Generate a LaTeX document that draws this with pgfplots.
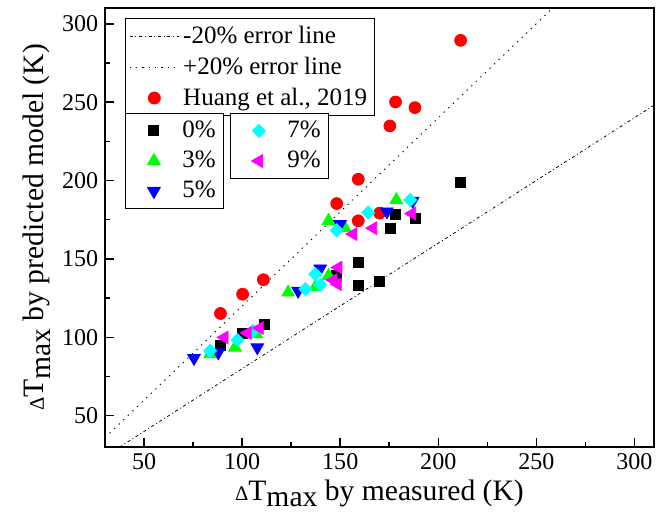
\documentclass[border=0pt]{standalone}
\usepackage{fontspec}
\setmainfont{Liberation Serif}
\usepackage{pgfplots}
\pgfplotsset{compat=1.18}
\usetikzlibrary{calc}
\definecolor{cgreen}{RGB}{0,255,0}
\definecolor{cblue}{RGB}{0,0,255}
\definecolor{ccyan}{RGB}{0,255,255}
\definecolor{cmag}{RGB}{255,0,255}
\definecolor{cred}{RGB}{255,0,0}

\pgfplotsset{
  common/.style={
    scale only axis, width=285.5pt, height=228.3pt,
    xmin=30, xmax=310, ymin=30, ymax=310,
    legend image code/.code={\draw[mark repeat=2,mark phase=2,##1] plot coordinates {(0cm,0cm)(0.45cm,0cm)(0.9cm,0cm)};},
    legend style={draw=black, line width=0.5pt, fill=white, font=\rmfamily\fontsize{13}{15}\selectfont,
      legend cell align=left, row sep=1.5pt, inner xsep=2pt, inner ysep=2pt,
      nodes={inner sep=2pt}},
  },
  mylegend/.style={legend image code/.code={\path[draw=none,fill=none] (0cm,0cm) (0.9cm,0cm); \draw[##1] plot coordinates {(0.45cm,0cm)};}},
}

\begin{document}
\begin{tikzpicture}
\begin{axis}[common, name=main,
  axis line style={line width=0.8pt},
  tick style={line width=0.8pt, black},
  tick align=inside,
  xtick pos=bottom, ytick pos=left,
  xtick={50,100,...,300}, ytick={50,100,...,300},
  minor x tick num=1, minor y tick num=1,
  major tick length=4.5pt, minor tick length=2.6pt,
  ticklabel style={font=\rmfamily\fontsize{12.5}{14}\selectfont},
  /pgf/number format/assume math mode=true,
  xlabel={{\scalebox{0.7}{Δ}T\raisebox{-0.45ex}{max} by measured (K)}},
  ylabel={{\scalebox{0.7}{Δ}T\raisebox{-0.45ex}{max} by predicted model (K)}},
  label style={font=\rmfamily\fontsize{15.4}{17}\selectfont},
  xlabel style={at={(axis description cs:0.5,-0.105)}, anchor=center},
  ylabel style={at={(axis description cs:-0.124,0.5)}, anchor=center},
  legend style={at={(0.0364,0.977)}, anchor=north west},
]
\addplot[black, line width=0.4pt, dash pattern=on 1.6pt off 1.4pt on 0.5pt off 1.4pt] coordinates {(37.5,30) (310,248)};
\addlegendentry{-20\% error line}
\addplot[black, line width=0.45pt, dash pattern=on 0.7pt off 2.6pt] coordinates {(30,36) (258.33,310)};
\addlegendentry{+20\% error line}
\addplot[only marks, mark=*, mark size=3.1pt, color=cred, mylegend] coordinates {
(88.9,115.2) (100.2,127.5) (110.8,136.7) (148.2,185.3) (159.2,200.8) (159.2,174.3)
(170.1,179.2) (175.3,234.8) (178.2,250.1) (188.1,246.5) (211.4,289.4)};
\addlegendentry{Huang et al., 2019}
\end{axis}

\begin{axis}[common, hide axis,
  legend style={at={(0.0364,0.761)}, anchor=north west}]
\addplot[only marks, mark=square*, mark size=2.6pt, color=black, mylegend] coordinates {
(88.7,95.0) (100.2,102.7) (111.1,108.4) (148.2,139.2) (159.2,147.7) (159.2,132.8)
(170.1,135.6) (175.7,169.3) (178.2,178.1) (188.1,176.0) (211.4,198.7)};
\addlegendentry{0\%}
\addplot[only marks, mark=triangle*, mark size=3.8pt, color=cgreen, mylegend] coordinates {
(83.6,89.3) (96.3,93.5) (107.2,102.0) (123.4,128.6) (137.3,132.2) (144.0,139.2)
(144.0,174.3) (152.4,169.6) (178.6,187.6)};
\addlegendentry{3\%}
\addplot[only marks, mark=triangle*, mark size=3.8pt, color=cblue, mark options={rotate=180}, mylegend] coordinates {
(75.4,86.7) (87.8,90.3) (107.7,93.5) (128.5,129.6) (139.8,143.8) (149.9,172.1)
(173.8,180.2) (187.0,187.0)};
\addlegendentry{5\%}
\end{axis}

\begin{axis}[common, hide axis,
  legend style={at={(0.2277,0.761)}, anchor=north west}]
\addplot[only marks, mark=square*, mark size=2.4pt, color=ccyan, mark options={rotate=45}, mylegend] coordinates {
(83.6,91.4) (97.6,98.2) (105.5,104.0) (132.2,130.7) (137.3,140.3) (139.8,133.5)
(148.2,168.3) (164.2,179.5) (185.7,187.6)};
\addlegendentry{7\%}
\addplot[only marks, mark=triangle*, mark size=3.8pt, color=cmag, mark options={rotate=90}, mylegend] coordinates {
(90.9,99.9) (102.7,102.7) (108.9,105.9) (149.0,144.5) (146.5,136.5) (148.7,133.9)
(156.6,165.8) (166.7,169.6) (186.6,178.9)};
\addlegendentry{9\%}
\end{axis}

\pgfresetboundingbox
\path[use as bounding box] ($(main.south west)+(-54.6pt,-36.4pt)$) rectangle ($(main.north east)+(6.8pt,4.2pt)$);
\end{tikzpicture}
\end{document}
